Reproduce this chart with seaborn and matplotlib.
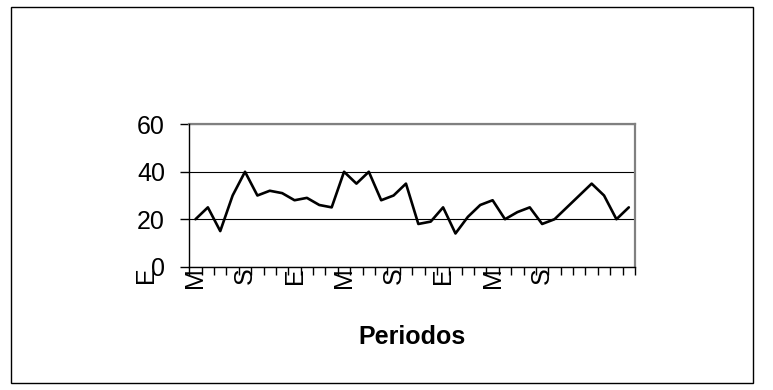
import matplotlib
matplotlib.use("Agg")
import matplotlib.pyplot as plt
import matplotlib.transforms as mtransforms
from matplotlib.patches import Rectangle
from matplotlib.ticker import FixedLocator
import numpy as np
import pandas as pd
import seaborn as sns

# Monthly values over 36 periods
periodo = list(range(36))
valores = [20, 25, 15, 30, 40, 30, 32, 31, 28, 29, 26, 25,
           40, 35, 40, 28, 30, 35, 18, 19, 25, 14, 21, 26,
           28, 20, 23, 25, 18, 20, 25, 30, 35, 30, 20, 25]

# Month initials shown every fourth period
etiqueta_pos = [-4, 0, 4, 8, 12, 16, 20, 24, 28]
etiqueta_txt = ["E", "M", "S", "E", "M", "S", "E", "M", "S"]

y_ticks = [0, 20, 40, 60]

sns.set_style("white")
plt.rcParams["font.family"] = ["Liberation Sans", "DejaVu Sans"]
plt.rcParams["text.color"] = "black"
plt.rcParams["xtick.labelcolor"] = "black"
plt.rcParams["ytick.labelcolor"] = "black"

df = pd.DataFrame({"periodo": periodo, "valor": valores})

W, H = 773, 390
fig = plt.figure(figsize=(W / 100, H / 100), dpi=100)
ax = fig.add_axes([189.3 / W, 1 - 266.7 / H, (635 - 189.3) / W, (266.7 - 124.3) / H])

sns.lineplot(data=df, x="periodo", y="valor", ax=ax, color="black",
             linewidth=1.9, zorder=3)

ax.set_xlim(-0.5, 35.5)
ax.set_ylim(0, 60)

# horizontal gridlines
ax.set_yticks(y_ticks)
ax.set_yticklabels([str(v) for v in y_ticks], fontsize=18, color="black")
ax.yaxis.grid(True, color="black", linewidth=0.8, zorder=1)
ax.xaxis.grid(False)
ax.tick_params(axis="y", which="major", direction="out", length=6.5,
               width=1, color="black", pad=11, left=True)

# category labels at period centres, tick marks at period boundaries
vis_pos = [p for p in etiqueta_pos if p >= 0]
vis_txt = [t for p, t in zip(etiqueta_pos, etiqueta_txt) if p >= 0]
ax.set_xticks(vis_pos)
ax.set_xticklabels(vis_txt, rotation=90, fontsize=18, va="top", ha="center",
                   color="black")
ax.xaxis.set_minor_locator(FixedLocator(np.arange(-0.5, 36, 1.0)))
ax.tick_params(axis="x", which="major", length=0, pad=0.5)
ax.tick_params(axis="x", which="minor", direction="out", length=5.5,
               width=1, color="black", bottom=True)

# label that falls before the first period
trans = mtransforms.blended_transform_factory(ax.transData, ax.transAxes)
for p, t in zip(etiqueta_pos, etiqueta_txt):
    if p < 0:
        ax.text(p, 0, t, transform=trans, rotation=90, fontsize=18,
                color="black", va="top", ha="center", clip_on=False)

ax.set_xlabel("")
ax.set_ylabel("")

for side in ["top", "right"]:
    ax.spines[side].set_visible(True)
    ax.spines[side].set_color("#808080")
    ax.spines[side].set_linewidth(1.6)
for side in ["left", "bottom"]:
    ax.spines[side].set_visible(True)
    ax.spines[side].set_color("black")
    ax.spines[side].set_linewidth(1.0)
    ax.spines[side].set_zorder(4)

fig.text(412.2 / W, 1 - 337 / H, "Periodos", fontsize=18, fontweight="bold",
         color="black", ha="center", va="center")

# chart area frame
fig.patches.append(Rectangle((10.5 / W, 1 - 383 / H), (753 - 10.5) / W, (383 - 7) / H,
                             transform=fig.transFigure, fill=False,
                             edgecolor="black", linewidth=1.0))

fig.savefig("out.png", dpi=100)
